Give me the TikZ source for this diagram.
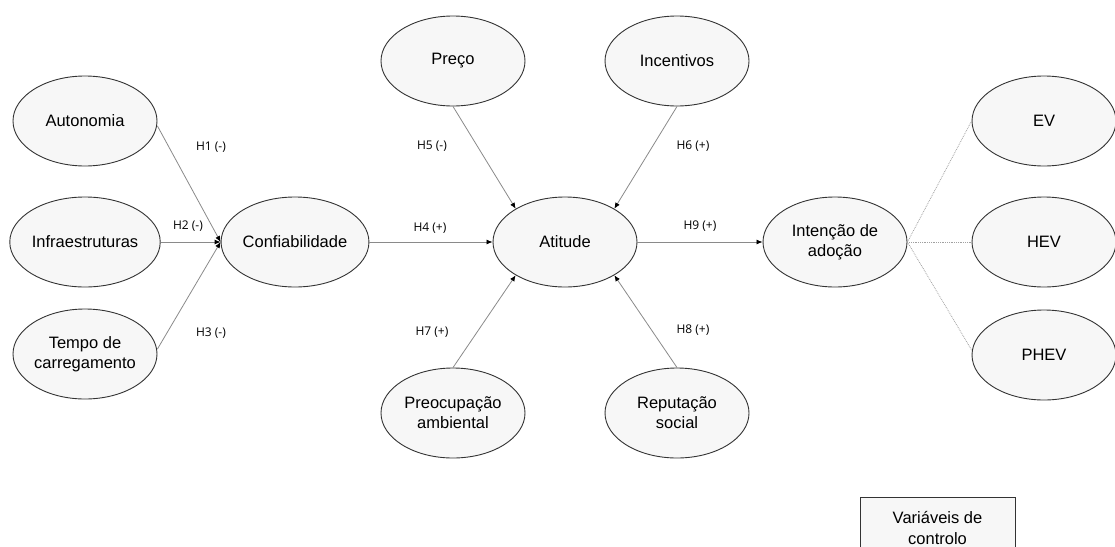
\documentclass[tikz,border=0pt]{standalone}
\usepackage{fontspec}
\setmainfont{Liberation Sans}
\newfontfamily\labfont{Open Sans}
\usetikzlibrary{shapes.geometric,arrows.meta}
\definecolor{fillgray}{HTML}{F7F7F7}
\definecolor{edgegray}{HTML}{333333}
\definecolor{linegray}{HTML}{8A8A8A}
\tikzset{
  construct/.style={ellipse,draw=edgegray,line width=0.9pt,fill=fillgray,minimum width=144pt,minimum height=90pt,inner sep=0pt,align=center,font=\fontsize{16.5}{20}\selectfont},
  hyp/.style={-{Latex[length=6pt,width=5pt,color=black]},draw=linegray,line width=0.8pt},
  dim/.style={draw=linegray!80,line width=0.8pt,densely dotted},
  hlab/.style={font=\labfont\fontsize{12}{14}\selectfont,text=black},
  ctrlbox/.style={rectangle,draw=edgegray,line width=0.9pt,fill=fillgray,minimum width=155pt,minimum height=62pt,align=center,font=\fontsize{16.5}{21}\selectfont}
}
\begin{document}
\begin{tikzpicture}[x=1pt,y=-1pt]
\useasboundingbox (0,0) rectangle (1115,546);
\clip (0,0) rectangle (1115,546);
% constructs
\node[construct] (auto) at (85,121) {Autonomia};
\node[construct] (infra) at (85,242) {Infraestruturas};
\node[construct] (tempo) at (85,354) {Tempo de\\carregamento};
\node[construct] (conf) at (295,242) {Confiabilidade};
\node[construct] (preco) at (453,61) {Preço};
\node[construct] (incent) at (677,61) {Incentivos};
\node[construct] (atit) at (565,242) {Atitude};
\node[construct] (preoc) at (453,413) {Preocupação\\ambiental};
\node[construct] (reput) at (677,413) {Reputação\\social};
\node[construct] (inten) at (835,242) {Intenção de\\adoção};
\node[construct] (ev) at (1044,121) {EV};
\node[construct] (hev) at (1044,242) {HEV};
\node[construct] (phev) at (1044,355) {PHEV};
\node[ctrlbox] (ctrl) at (937.5,528) {Variáveis de\\controlo};
% hypotheses
\draw[hyp] ([yshift=-5pt]auto.east) -- (conf.west);
\draw[hyp] (infra.east) -- (conf.west);
\draw[hyp] ([yshift=5pt]tempo.east) -- (conf.west);
\draw[hyp] (conf.east) -- (atit.west);
\draw[hyp] (preco.south) -- (atit.146);
\draw[hyp] (incent.south) -- (atit.34);
\draw[hyp] (preoc.north) -- (atit.214);
\draw[hyp] (reput.north) -- (atit.326);
\draw[hyp] (atit.east) -- (inten.west);
% dimensions
\draw[dim] (inten.east) -- (ev.west);
\draw[dim] (inten.east) -- (hev.west);
\draw[dim] (inten.east) -- ([yshift=5pt]phev.west);
% labels
\node[hlab] (h1) at (211,147) {H1 (-)};
\node[hlab] (h2) at (188,226) {H2 (-)};
\node[hlab] (h3) at (211,333) {H3 (-)};
\node[hlab] (h4) at (430,228) {H4 (+)};
\node[hlab] (h5) at (432,146) {H5 (-)};
\node[hlab] (h6) at (693,146) {H6 (+)};
\node[hlab] (h7) at (432,332) {H7 (+)};
\node[hlab] (h8) at (693,330) {H8 (+)};
\node[hlab] (h9) at (700,226) {H9 (+)};
\end{tikzpicture}
\end{document}
